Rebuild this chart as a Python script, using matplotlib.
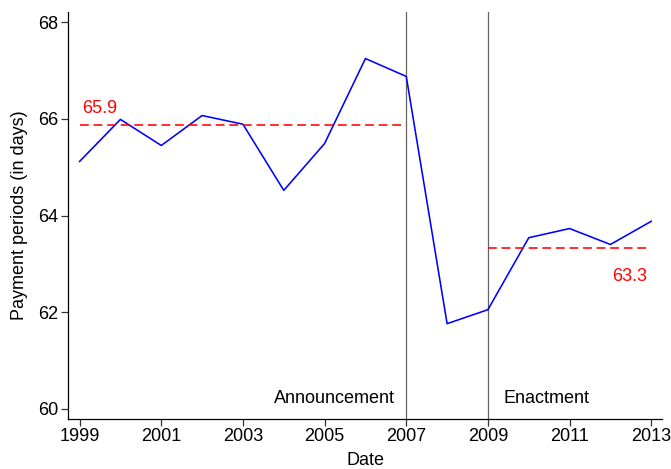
import matplotlib
matplotlib.use('Agg')
import matplotlib.pyplot as plt

# Dados
anos = [1999, 2000, 2001, 2002, 2003, 2004, 2005, 2006, 2007,
        2008, 2009, 2010, 2011, 2012, 2013]
prazo = [65.12, 65.99, 65.45, 66.07, 65.89, 64.52, 65.49, 67.25, 66.88,
         61.76, 62.05, 63.54, 63.73, 63.40, 63.88]
media_antes = 65.88
media_depois = 63.32
anuncio = 2007
vigencia = 2009
xticks = [1999, 2001, 2003, 2005, 2007, 2009, 2011, 2013]
yticks = [60, 62, 64, 66, 68]

plt.rcParams['font.family'] = ['Liberation Sans', 'DejaVu Sans']
fs = 13

fig = plt.figure(figsize=(6.71, 4.69), dpi=100)
ax = fig.add_axes([0.101, 0.107, 0.886, 0.867])

ax.axvline(anuncio, color='#666666', lw=0.9)
ax.axvline(vigencia, color='#666666', lw=0.9)

ax.plot(anos, prazo, color='#0000ff', lw=1.15)

ax.plot([anos[0], anuncio], [media_antes, media_antes], color='#ff0000',
        lw=1.15, dashes=(5.5, 3))
ax.plot([vigencia, anos[-1]], [media_depois, media_depois], color='#ff0000',
        lw=1.15, dashes=(5.5, 3))

ax.text(1999.05, 66.13, f'{media_antes:.1f}', color='#ff0000',
        fontsize=fs, ha='left', va='baseline')
ax.text(2012.9, 62.65, f'{media_depois:.1f}', color='#ff0000',
        fontsize=fs, ha='right', va='baseline')

ax.text(anuncio - 0.27, 60.12, 'Announcement', fontsize=fs,
        ha='right', va='baseline')
ax.text(vigencia + 0.38, 60.12, 'Enactment', fontsize=fs,
        ha='left', va='baseline')

ax.set_xlim(1998.71, 2013.27)
ax.set_ylim(59.79, 68.21)
ax.set_xticks(xticks)
ax.set_yticks(yticks)
ax.tick_params(labelsize=fs, length=5, width=0.9, pad=1.5, color='#333333')
ax.spines['top'].set_visible(False)
ax.spines['right'].set_visible(False)
ax.spines['left'].set_linewidth(0.9)
ax.spines['bottom'].set_linewidth(0.9)

ax.set_xlabel('Date', fontsize=fs)
ax.set_ylabel('Payment periods (in days)', fontsize=fs)
ax.xaxis.set_label_coords(0.5, -0.082)
ax.yaxis.set_label_coords(-0.067, 0.5)

fig.savefig('out.png', dpi=100, facecolor='white')
